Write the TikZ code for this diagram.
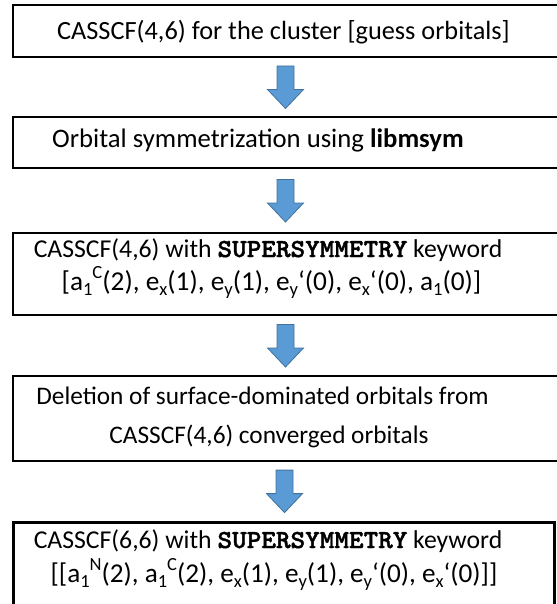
\documentclass[tikz,border=0pt]{standalone}
\usepackage{fontspec}
\setmainfont{Carlito}
% bold slab-serif typewriter face for keywords
\newfontfamily\codefont{lmmonolt10-bold.otf}[FakeStretch=1.07,FakeBold=1.6]
\usetikzlibrary{calc}

\definecolor{arrowfill}{HTML}{5B9BD5}
\definecolor{arrowedge}{HTML}{41719C}

% lowered / raised indices, sized relative to the surrounding text
\newcommand\lo[1]{\raisebox{-0.2em}{\fontsize{0.68\dimexpr\fontdimen6\font\relax}{0pt}\selectfont #1}}
\newcommand\hi[1]{\raisebox{0.42em}{\fontsize{0.68\dimexpr\fontdimen6\font\relax}{0pt}\selectfont #1}}
% keyword in bold typewriter
\newcommand\kw[1]{{\codefont\fontsize{26}{26}\selectfont #1}}

\tikzset{
  stepbox/.style={draw=black, line width=1.4pt, rectangle, inner sep=0pt, minimum width=545pt},
  finalbox/.style={stepbox, line width=3pt, minimum width=541pt},
  txt/.style={inner sep=0pt, anchor=base, font=\fontsize{#1}{30}\selectfont},
  txt/.default=25.7,
  blockarrow/.style={draw=arrowedge, fill=arrowfill, line width=0.8pt, line join=miter},
}

% block arrow drawn in the gap between two stacked boxes
\newcommand\flowarrow[2]{%
  \path let \p3=($(#1.south)!.5!(#2.north)$) in
    [blockarrow]
    (\x3-8.5pt,\y3+21pt) -- (\x3+8.5pt,\y3+21pt) -- (\x3+8.5pt,\y3-2.5pt)
    -- (\x3+18pt,\y3-2.5pt) -- (\x3,\y3-21.5pt) -- (\x3-18pt,\y3-2.5pt)
    -- (\x3-8.5pt,\y3-2.5pt) -- cycle;}

\begin{document}
\begin{tikzpicture}[x=1pt,y=-1pt]
  \useasboundingbox (0,0) rectangle (556,604);

  % boxes
  \node[stepbox, minimum height=52pt] (b1) at (285.5,31) {};
  \node[stepbox, minimum height=51pt] (b2) at (285.5,142.5) {};
  \node[stepbox, minimum height=82pt] (b3) at (285.5,274) {};
  \node[stepbox, minimum height=85pt] (b4) at (285.5,418.5) {};
  \node[finalbox, minimum height=90pt] (b5) at (283.5,567) {};

  % box texts
  \node[txt=26.3] (t1) at (283.5,40) {CASSCF(4,6) for the cluster [guess orbitals]};
  \node[txt=26.7] (t2) at (258,147) {Orbital symmetrization using \textbf{libmsym}};
  \node[txt] (t3a) at (268,257) {CASSCF(4,6) with \kw{SUPERSYMMETRY} keyword};
  \node[txt=27.3] (t3b) at (271.5,290) {[a\lo{1}\hi{C}(2), e\lo{x}(1), e\lo{y}(1), e\lo{y}‘(0), e\lo{x}‘(0), a\lo{1}(0)]};
  \node[txt=25.3] (t4a) at (262.5,404) {Deletion of surface-dominated orbitals from};
  \node[txt=25.3] (t4b) at (269,443) {CASSCF(4,6) converged orbitals};
  \node[txt] (t5a) at (268,548) {CASSCF(6,6) with \kw{SUPERSYMMETRY} keyword};
  \node[txt=27.2] (t5b) at (274,582) {[[a\lo{1}\hi{N}(2), a\lo{1}\hi{C}(2), e\lo{x}(1), e\lo{y}(1), e\lo{y}‘(0), e\lo{x}‘(0)]]};

  % arrows between steps
  \flowarrow{b1}{b2}
  \flowarrow{b2}{b3}
  \flowarrow{b3}{b4}
  \flowarrow{b4}{b5}
\end{tikzpicture}
\end{document}
